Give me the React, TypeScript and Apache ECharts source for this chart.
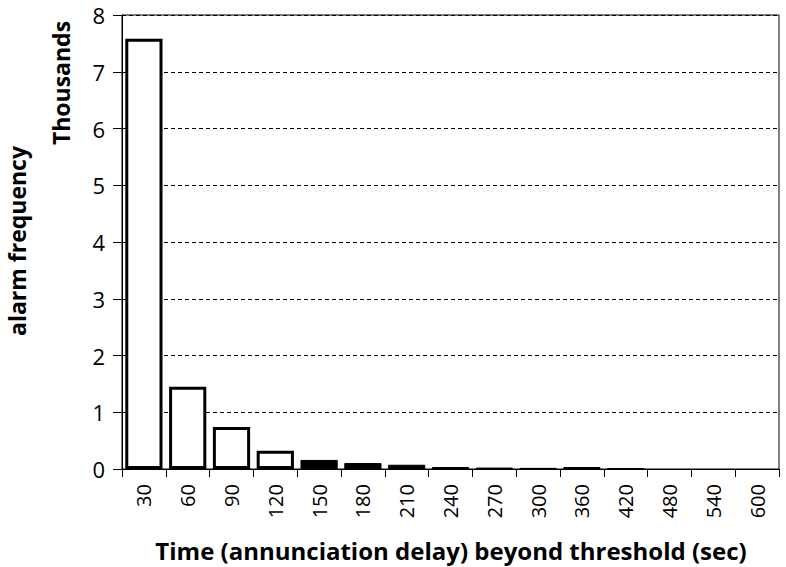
import React, { useEffect, useRef } from "react";
import * as echarts from "echarts";

const categories = ["30", "60", "90", "120", "150", "180", "210", "240", "270", "300", "360", "420", "480", "540", "600"];
// alarm frequency, in thousands
const frequencyThousands = [7.58, 1.45, 0.74, 0.32, 0.16, 0.105, 0.075, 0.035, 0.025, 0.02, 0.035, 0.015, 0, 0, 0];
const yTicks = [0, 1, 2, 3, 4, 5, 6, 7, 8];

const xTitle = "Time (annunciation delay) beyond threshold (sec)";
const yTitle = "alarm frequency";
const unitLabel = "Thousands";

const FONT = "'Open Sans', 'DejaVu Sans', sans-serif";

export default function App() {
  const ref = useRef<HTMLDivElement>(null);

  useEffect(() => {
    if (!ref.current) return;
    const chart = echarts.init(ref.current, undefined, { renderer: "svg" });
    const data = frequencyThousands.map((v, i) =>
      i >= 4
        ? { value: v, itemStyle: { color: "#000", borderColor: "#000", borderWidth: v > 0 ? 1 : 0 } }
        : { value: v }
    );
    chart.setOption({
      animation: false,
      backgroundColor: "#fff",
      grid: {
        left: 122,
        right: 7,
        top: 15,
        bottom: 98,
        show: true,
        borderColor: "#000",
        borderWidth: 1,
        backgroundColor: "transparent",
      },
      xAxis: {
        type: "category",
        data: categories,
        boundaryGap: true,
        axisLine: { show: true, lineStyle: { color: "#000", width: 1 } },
        axisTick: { show: true, length: 8, alignWithLabel: false, lineStyle: { color: "#000" } },
        axisLabel: {
          rotate: 90,
          margin: 15,
          interval: 0,
          fontFamily: FONT,
          fontSize: 20,
          color: "#000",
        },
        splitLine: { show: false },
      },
      yAxis: {
        type: "value",
        min: yTicks[0],
        max: yTicks[yTicks.length - 1],
        interval: 1,
        axisLine: { show: true, lineStyle: { color: "#000", width: 1 } },
        axisTick: { show: true, length: 9, lineStyle: { color: "#000" } },
        axisLabel: {
          margin: 17,
          fontFamily: FONT,
          fontSize: 22,
          color: "#000",
        },
        splitLine: { show: true, lineStyle: { color: "#000", type: [4, 3], width: 1 } },
      },
      series: [
        {
          type: "bar",
          data,
          barCategoryGap: "15%",
          itemStyle: { color: "#fff", borderColor: "#000", borderWidth: 3 },
        },
      ],
      graphic: [
        {
          type: "text",
          x: 451,
          y: 550,
          style: {
            text: xTitle,
            fontFamily: FONT,
            fontSize: 24,
            fontWeight: "bold",
            fill: "#000",
            align: "center",
            verticalAlign: "middle",
          },
        },
        {
          type: "text",
          x: 17,
          y: 241,
          rotation: Math.PI / 2,
          style: {
            text: yTitle,
            fontFamily: FONT,
            fontSize: 23,
            fontWeight: "bold",
            fill: "#000",
            align: "center",
            verticalAlign: "middle",
          },
        },
        {
          type: "text",
          x: 61,
          y: 83,
          rotation: Math.PI / 2,
          style: {
            text: unitLabel,
            fontFamily: FONT,
            fontSize: 23,
            fontWeight: "bold",
            fill: "#000",
            align: "center",
            verticalAlign: "middle",
          },
        },
      ],
    });
    return () => chart.dispose();
  }, []);

  return <div ref={ref} style={{ width: 786, height: 567, position: "absolute", left: 0, top: 0 }} />;
}
